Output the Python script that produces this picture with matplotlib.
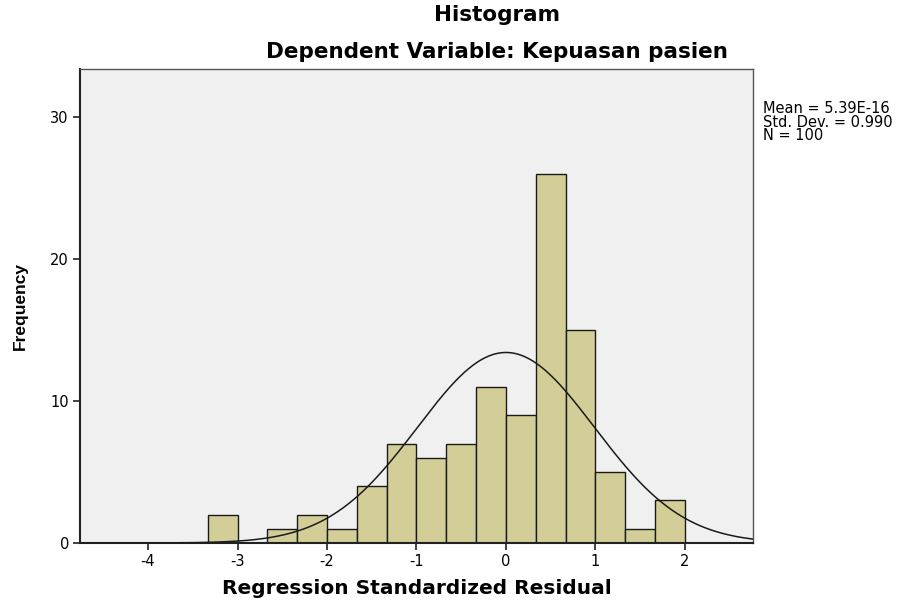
#!/usr/bin/env python3
"""SPSS-style residual histogram with normal curve."""

import numpy as np
import matplotlib
matplotlib.use("Agg")
import matplotlib.pyplot as plt

# bin edges are thirds of a unit, from -10/3 to 2
bin_left = [-10 / 3, -9 / 3, -8 / 3, -7 / 3, -6 / 3, -5 / 3, -4 / 3, -3 / 3,
            -2 / 3, -1 / 3, 0.0, 1 / 3, 2 / 3, 3 / 3, 4 / 3, 5 / 3]
counts = [2, 0, 1, 2, 1, 4, 7, 6, 7, 11, 9, 26, 15, 5, 1, 3]
bin_width = 1 / 3

mean = 5.39e-16
std = 0.990
n = 100

x_ticks = [-4, -3, -2, -1, 0, 1, 2]
y_ticks = [0, 10, 20, 30]

BAR = "#D3CE97"
BG = "#F0F0F0"
WIDE = ["DejaVu Sans"]

plt.rcParams["font.family"] = ["Liberation Sans", "DejaVu Sans"]

fig = plt.figure(figsize=(9.05, 6.02), dpi=100)
ax = fig.add_axes([0.0884, 0.098, 0.7436, 0.787])
ax.set_facecolor(BG)

ax.bar(bin_left, counts, width=bin_width, align="edge", color=BAR,
       edgecolor="#1a1a1a", linewidth=1.0, zorder=2)

xs = np.linspace(-4.76, 2.76, 400)
pdf = n * bin_width / (std * np.sqrt(2 * np.pi)) * np.exp(-0.5 * ((xs - mean) / std) ** 2)
ax.plot(xs, pdf, color="#1a1a1a", linewidth=1.1, zorder=3)

ax.set_xlim(-4.76, 2.76)
ax.set_ylim(0, 33.4)
ax.set_xticks(x_ticks)
ax.set_yticks(y_ticks)
ax.set_xticklabels([str(t) for t in x_ticks], fontsize=10.5, family=WIDE)
ax.set_yticklabels([str(t) for t in y_ticks], fontsize=10.5, family=WIDE)
ax.tick_params(axis="both", direction="out", length=5, width=1.2, color="#222222", pad=3)

for side in ["left", "bottom"]:
    ax.spines[side].set_linewidth(1.5)
    ax.spines[side].set_color("#222222")
for side in ["top", "right"]:
    ax.spines[side].set_linewidth(1.0)
    ax.spines[side].set_color("#555555")

ax.set_xlabel("Regression Standardized Residual", fontsize=14.5, fontweight="bold", family=WIDE)
ax.xaxis.set_label_coords(0.5, -0.095)
ax.xaxis.label.set_va("center")
ax.set_ylabel("Frequency", fontsize=12.5, fontweight="bold")
ax.yaxis.set_label_coords(-0.089, 0.5)
ax.yaxis.label.set_va("center")

fig.text(0.549, 0.975, "Histogram", ha="center", va="center", fontsize=15.5,
         fontweight="bold", family=WIDE)
fig.text(0.549, 0.913, "Dependent Variable: Kepuasan pasien", ha="center", va="center",
         fontsize=15.5, fontweight="bold", family=WIDE)

fig.text(0.843, 0.832, f"Mean = 5.39E-16\nStd. Dev. = {std:.3f}\nN = {n}",
         ha="left", va="top", fontsize=10.5, linespacing=0.88, family=WIDE)

fig.savefig("out.png", dpi=100, facecolor="white")
